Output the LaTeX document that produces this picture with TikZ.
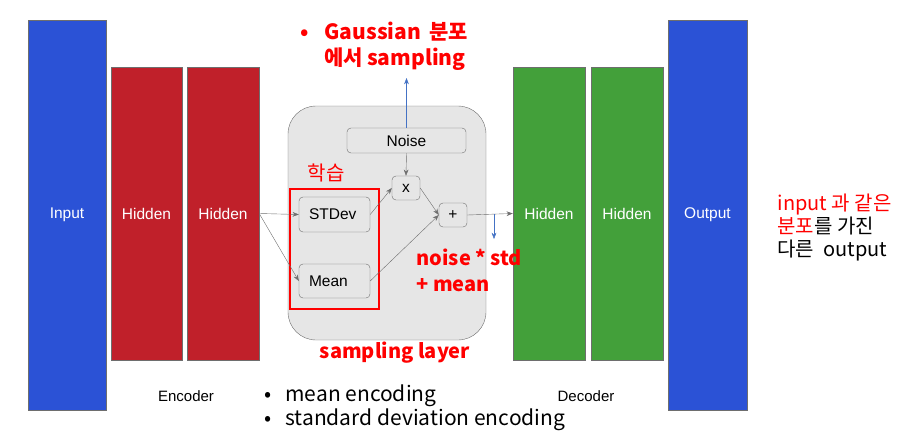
\documentclass[tikz,border=0pt]{standalone}
\usepackage{fontspec}
\setmainfont{Liberation Sans}
\newfontfamily\kr{Noto Sans CJK KR}
\usepackage{xcolor}
\usetikzlibrary{arrows.meta,positioning}
\definecolor{vaeBlue}{HTML}{2B52D6}
\definecolor{vaeRed}{HTML}{C0202A}
\definecolor{vaeGreen}{HTML}{43A03A}
\definecolor{vaeLayer}{HTML}{E6E6E6}
\definecolor{vaeRule}{HTML}{6E6E6E}
\definecolor{vaeNote}{HTML}{FF0000}
\definecolor{vaeArrow}{HTML}{4472C4}

\begin{document}
\begin{tikzpicture}[x=1pt, y=-1pt,
    bar/.style={draw=vaeRule, text=white, inner sep=0pt,
                font=\fontsize{15.5}{17}\selectfont},
    op/.style={draw=vaeRule, fill=vaeLayer, rounded corners=4pt, inner sep=0pt,
               font=\fontsize{15.5}{17}\selectfont},
    term/.style={op, inner xsep=10pt, text width=51pt, align=left},
    note/.style={text=vaeNote, font=\kr\bfseries\fontsize{20}{26}\selectfont, align=left},
    caption/.style={font=\fontsize{15}{17}\selectfont},
    arr/.style={-{Stealth[length=2.2mm]}, draw=vaeRule, thin},
    blue arr/.style={-{Stealth[length=2.2mm]}, draw=vaeArrow}]

    \useasboundingbox (0,0) rectangle (903,439);

    % encoder / decoder bars
    \node[bar, fill=vaeBlue, minimum width=78pt, minimum height=390pt] (input) at (67,215) {Input};
    \node[bar, fill=vaeRed, minimum width=71pt, minimum height=293pt] (hid1) at (146.5,213.5) {Hidden};
    \node[bar, fill=vaeRed, minimum width=72pt, minimum height=293pt] (hid2) at (223,213.5) {Hidden};
    \node[bar, fill=vaeGreen, minimum width=72pt, minimum height=293pt] (hid3) at (549,213.5) {Hidden};
    \node[bar, fill=vaeGreen, minimum width=72pt, minimum height=293pt] (hid4) at (627,213.5) {Hidden};
    \node[bar, fill=vaeBlue, minimum width=79pt, minimum height=390pt] (output) at (707.5,215) {Output};

    % sampling layer
    \node[draw=vaeRule, fill=vaeLayer, rounded corners=28pt,
          minimum width=198pt, minimum height=234pt] (layer) at (387,223) {};
    \node[op, minimum width=119pt, minimum height=25pt] (noise) at (406.5,140.5) {Noise};
    \node[op, minimum width=28pt, minimum height=24pt] (mul) at (406,188) {x};
    \node[op, minimum width=28pt, minimum height=24pt] (add) at (453,215) {+};
    \node[term, minimum height=35pt] (std) at (334.5,214.5) {STDev};
    \node[term, minimum height=34pt] (mean) at (334.5,281) {Mean};
    \draw[vaeNote, line width=1.6pt] (290,189) rectangle (379,309);

    \coordinate (gauss) at (406.5,78);
    \coordinate (down) at (494,239);
    \coordinate (downtop) at (494,214);

    \draw[arr] (hid2.east) -- (std.west);
    \draw[arr] (hid2.east) -- (mean.west);
    \draw[arr] (std.east) -- (mul.west);
    \draw[arr] (mean.east) -- (add.west);
    \draw[arr] (mul.east) -- (add.west);
    \draw[arr] (noise.south) -- (mul.north);
    \draw[arr] (add.east) -- (hid3.west);
    \draw[blue arr] (noise.north) -- (gauss);
    \draw[blue arr] (downtop) -- (down);

    % notes
    \node[text=vaeNote, font=\kr\fontsize{20}{22}\selectfont] (learntxt) at (326,173) {학습};
    \node[note, anchor=west, font=\kr\bfseries\fontsize{21}{26}\selectfont] (gausstxt) at (321,46)
        {\llap{•\hspace{16pt}}Gaussian\hspace{8pt}분포\\에서\hspace{4pt}sampling};
    \node[note, anchor=west] (formula) at (413,270) {noise * std\\+ mean};
    \node[note] (laytxt) at (395,353) {sampling layer};
    \node[caption] (enc) at (186,396) {Encoder};
    \node[caption] (dec) at (586,396) {Decoder};
    \node[font=\kr\fontsize{21}{24}\selectfont, align=left, anchor=west] (bul) at (282,408)
        {\llap{•\hspace{14pt}}mean encoding\\\llap{•\hspace{14pt}}standard deviation encoding};
    \node[font=\kr\fontsize{20}{23}\selectfont, align=left, anchor=west] (same) at (774,228)
        {\textcolor{vaeNote}{input 과 같은}\\\textcolor{vaeNote}{분포}를 가진\\다른 \ output};
\end{tikzpicture}
\end{document}
